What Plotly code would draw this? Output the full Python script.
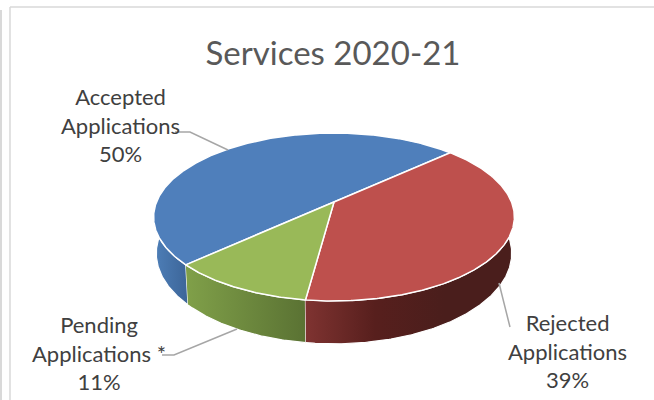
import numpy as np
import plotly.graph_objects as go

# Chart data, in clockwise order from the lower left edge of the blue slice
categories = ["Accepted<br>Applications", "Rejected<br>Applications", "Pending<br>Applications *"]
values = [50, 39, 11]
top_colors = ["#4f7fbb", "#be504d", "#99b958"]
wall_gradients = [
    ["#4e7fb8", "#3c6598"],
    ["#7f3331", "#571f1d", "#4a1e1c", "#4a1e1c"],
    ["#80a049", "#5a7233"],
]

# Tilted-disc projection (screen pixels)
CX, CY = 334.0, 202.0
A, B, K = 177.5, 81.3, 0.1786
DEPTH, BOTTOM_SCALE = 35.2, 0.985
START_DEG = 222.8  # where the first slice begins, running clockwise


def project(deg, lowered=False):
    t = np.radians(deg)
    u, v = np.cos(t), np.sin(t)
    w = 1 + K * v
    scale = BOTTOM_SCALE if lowered else 1.0
    x = CX + scale * A * u / w
    y = CY - B * v / w
    if lowered:
        y = y + DEPTH / w
    return x, y


def arc(a, b, lowered=False):
    n = max(int(abs(b - a)) * 2, 2)
    return project(np.linspace(a, b, n), lowered)


# Slice boundaries in degrees, derived from the values
total = sum(values)
edges = [START_DEG]
for val in values:
    edges.append(edges[-1] - 360 * val / total)

fig = go.Figure()


def polygon(x, y, color=None, line="#ffffff", width=1.5, gradient=None):
    kw = dict(fillgradient=gradient) if gradient else dict(fillcolor=color)
    fig.add_trace(go.Scatter(x=x, y=y, mode="lines", fill="toself", hoverinfo="skip",
                             showlegend=False, line=dict(color=line, width=width), **kw))


# Side walls: only the near half of the disc shows its rim
spans = [
    (172.0, edges[0], 0),
    (edges[3], edges[2], 2),
    (edges[2], 10.0, 1),
]
for a, b, idx in spans:
    tx, ty = arc(a, b)
    bx, by = arc(b, a, lowered=True)
    colors = wall_gradients[idx]
    scale = [[i / (len(colors) - 1), c] for i, c in enumerate(colors)]
    polygon(np.r_[tx, bx], np.r_[ty, by], line="#ffffff", width=1.2,
            gradient=dict(type="horizontal", colorscale=scale))

# Top faces
for i in range(len(values)):
    ax, ay = arc(edges[i], edges[i + 1])
    polygon(np.r_[CX, ax, CX], np.r_[CY, ay, CY], color=top_colors[i])

# Leader lines from the labels to the slices
leaders = [
    ([175, 190, 228], [132, 132, 150]),
    ([510, 499], [327, 283]),
    ([162, 174, 237], [355, 355, 329]),
]
for lx, ly in leaders:
    fig.add_trace(go.Scatter(x=lx, y=ly, mode="lines", hoverinfo="skip", showlegend=False,
                             line=dict(color="#a6a6a6", width=1.5)))

# Slice labels
label_pos = [(120, 124.5), (567, 351), (99, 352.5)]
for name, val, (lx, ly) in zip(categories, values, label_pos):
    fig.add_annotation(x=lx, y=ly, text=f"{name}<br>{val}%", showarrow=False, align="center",
                       xanchor="center", yanchor="middle",
                       font=dict(family="Lato", size=22, color="#404040"))

fig.update_layout(
    width=654, height=400, margin=dict(l=0, r=0, t=0, b=0),
    paper_bgcolor="#ffffff", plot_bgcolor="#ffffff",
    title=dict(text="Services 2020-21", x=333 / 654, xanchor="center", y=1 - 53 / 400, yanchor="middle",
               font=dict(family="Lato", size=33, color="#595959")),
    xaxis=dict(range=[0, 654], visible=False, fixedrange=True),
    yaxis=dict(range=[400, 0], visible=False, fixedrange=True),
    shapes=[
        dict(type="line", x0=10, x1=10, y0=7, y1=400, line=dict(color="#d9d9d9", width=1.5)),
        dict(type="line", x0=10, x1=654, y0=7, y1=7, line=dict(color="#d9d9d9", width=1.5)),
        dict(type="line", x0=1, x1=1, y0=10, y1=400, line=dict(color="#d9d9d9", width=2)),
    ],
)
fig.write_html("out.html", config=dict(displayModeBar=False))
